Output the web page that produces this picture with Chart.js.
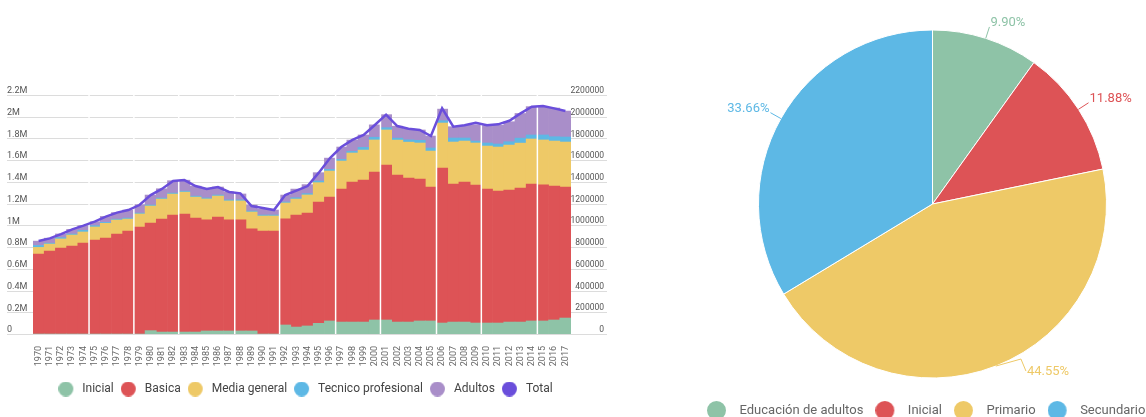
<!DOCTYPE html>
<html>
<head>
<meta charset="utf-8">
<script src="https://cdn.jsdelivr.net/npm/chart.js@4.4.1/dist/chart.umd.min.js"></script>
<style>
  html, body { margin: 0; padding: 0; background: #fff; }
  body { width: 1146px; height: 417px; overflow: hidden; position: relative; }
  #barChart { position: absolute; left: 0; top: 0; }
  #pieChart { position: absolute; left: 694.5px; top: 0; }
</style>
</head>
<body>
<canvas id="barChart" width="610" height="417"></canvas>
<canvas id="pieChart" width="480" height="427"></canvas>
<script>
const years = ['1970','1971','1972','1973','1974','1975','1976','1977','1978','1979',
  '1980','1981','1982','1983','1984','1985','1986','1987','1988','1989',
  '1990','1991','1992','1993','1994','1995','1996','1997','1998','1999',
  '2000','2001','2002','2003','2004','2005','2006','2007','2008','2009',
  '2010','2011','2012','2013','2014','2015','2016','2017'];

const inicial = [0,0,0,0,0,0,0,0,0,0,
  31000,18000,18000,18000,18000,28000,28000,28000,28000,28000,
  0,0,83000,64000,74000,98000,120000,110000,110000,110000,
  129000,129000,110000,110000,120000,120000,101000,110000,110000,101000,
  101000,101000,110000,110000,120000,120000,129000,147000];

const basica = [736000,764000,792000,810000,838000,865000,884000,920000,948000,985000,
  991000,1040000,1077000,1086000,1049000,1022000,1049000,1022000,1022000,939000,
  948000,948000,976000,1031000,1040000,1117000,1141000,1224000,1289000,1307000,
  1362000,1427000,1353000,1325000,1307000,1233000,1427000,1270000,1289000,1270000,
  1233000,1215000,1215000,1233000,1261000,1252000,1233000,1206000];

const mediaGeneral = [61000,64000,83000,101000,101000,120000,135000,129000,110000,120000,
  156000,184000,193000,202000,193000,193000,193000,175000,175000,156000,
  138000,138000,147000,147000,166000,178000,239000,258000,267000,276000,
  295000,322000,322000,331000,331000,331000,414000,387000,377000,387000,
  396000,405000,414000,414000,414000,414000,414000,414000];

const tecnico = [18000,8000,12000,9000,15000,12000,8000,8000,9000,8000,
  9000,9000,9000,9000,9000,9000,9000,9000,9000,9000,
  9000,9000,9000,12000,12000,15000,15000,15000,15000,25000,
  25000,21000,18000,21000,25000,28000,21000,37000,28000,18000,
  28000,28000,31000,46000,37000,46000,40000,46000];

const adultos = [40000,46000,34000,43000,43000,37000,55000,61000,74000,77000,
  92000,86000,114000,101000,92000,83000,74000,74000,55000,55000,
  55000,46000,64000,80000,83000,77000,104000,114000,104000,114000,
  114000,120000,110000,101000,95000,110000,107000,104000,117000,150000,
  160000,172000,184000,227000,261000,261000,264000,239000];

const total = [856000,880000,920000,963000,997000,1034000,1080000,1117000,1141000,1187000,
  1279000,1335000,1408000,1417000,1362000,1335000,1353000,1307000,1295000,1178000,
  1160000,1141000,1279000,1319000,1362000,1485000,1620000,1721000,1786000,1832000,
  1924000,2019000,1914000,1890000,1878000,1822000,2077000,1908000,1921000,1945000,
  1921000,1930000,1963000,2031000,2092000,2099000,2077000,2052000];

// years where the bars are split by a thin white gap
const gapYears = ['1975','1979','1983','1988','1992','1997','2001','2006','2010','2015'];

const pieLabels = ['Educación de adultos', 'Inicial', 'Primario', 'Secundario'];
const pieValues = [9.90, 11.88, 44.55, 33.66];

const colors = {
  inicial: '#8ec3a7',
  basica: '#dd5356',
  media: '#eec967',
  tecnico: '#5db8e5',
  adultos: '#a98ec9',
  total: '#6a4edb'
};
const pieColors = ['#8ec3a7', '#dd5356', '#eec967', '#5db8e5'];

Chart.defaults.font.family = 'Roboto';
Chart.defaults.animation = false;

// circle drawn at the left of a wider image, so the legend text sits a bit further away
function dotImage(color, d, w) {
  const c = document.createElement('canvas');
  c.width = w; c.height = d;
  const g = c.getContext('2d');
  g.fillStyle = color;
  g.beginPath();
  g.arc(d / 2, d / 2, d / 2, 0, Math.PI * 2);
  g.fill();
  return c;
}

const fullGrid = {
  id: 'fullGrid',
  beforeDatasetsDraw(chart) {
    const ctx = chart.ctx, y = chart.scales.y;
    ctx.save();
    ctx.strokeStyle = '#dcdcdc';
    ctx.lineWidth = 1;
    y.ticks.forEach(t => {
      const py = Math.round(y.getPixelForValue(t.value)) + 0.5;
      ctx.beginPath();
      ctx.moveTo(7, py);
      ctx.lineTo(607, py);
      ctx.stroke();
    });
    ctx.restore();
  }
};

const yearGaps = {
  id: 'yearGaps',
  afterDatasetDraw(chart, args) {
    if (args.index !== 0) return;
    const x = chart.scales.x, area = chart.chartArea, ctx = chart.ctx;
    ctx.save();
    ctx.strokeStyle = '#ffffff';
    ctx.lineWidth = 1.5;
    gapYears.forEach(yr => {
      const i = years.indexOf(yr);
      const px = (x.getPixelForValue(i - 1) + x.getPixelForValue(i)) / 2;
      ctx.beginPath();
      ctx.moveTo(px, area.top);
      ctx.lineTo(px, area.bottom);
      ctx.stroke();
    });
    ctx.restore();
  }
};

function barSet(label, data, color) {
  return { label, data, backgroundColor: color, borderWidth: 0,
    barPercentage: 1, categoryPercentage: 1, stack: 'edu' };
}

new Chart(document.getElementById('barChart'), {
  type: 'bar',
  data: {
    labels: years,
    datasets: [
      barSet('Inicial', inicial, colors.inicial),
      barSet('Basica', basica, colors.basica),
      barSet('Media general', mediaGeneral, colors.media),
      barSet('Tecnico profesional', tecnico, colors.tecnico),
      barSet('Adultos', adultos, colors.adultos),
      { type: 'line', label: 'Total', data: total, borderColor: colors.total,
        backgroundColor: colors.total, borderWidth: 2.5, pointRadius: 0,
        tension: 0, fill: false, order: -1, stack: 'total' }
    ]
  },
  options: {
    responsive: false,
    layout: { padding: { left: 7, right: 6, top: 95, bottom: 12 } },
    scales: {
      x: {
        stacked: true,
        grid: { display: false },
        border: { display: false },
        ticks: { autoSkip: false, minRotation: 90, maxRotation: 90, padding: 4,
          color: '#666', font: { size: 9 } },
        afterFit: s => { s.height = 42; }
      },
      y: {
        stacked: true, position: 'left', min: 0, max: 2200000,
        grid: { display: false },
        border: { display: false },
        ticks: { stepSize: 200000, crossAlign: 'far', labelOffset: -4, padding: 0,
          color: '#555', font: { size: 9 },
          callback: v => v === 0 ? '0' : (v / 1000000) + 'M' },
        afterFit: s => { s.width = 26; }
      },
      y2: {
        position: 'right', min: 0, max: 2200000,
        grid: { display: false },
        border: { display: false },
        ticks: { stepSize: 200000, crossAlign: 'far', labelOffset: -4, padding: 0,
          color: '#555', font: { size: 8.5 }, callback: v => String(v) },
        afterFit: s => { s.width = 33; }
      }
    },
    plugins: {
      tooltip: { enabled: false },
      legend: {
        position: 'bottom',
        labels: {
          color: '#444', font: { size: 12 }, padding: 7,
          usePointStyle: true, pointStyleWidth: 18, boxHeight: 12,
          sort: (a, b) => a.datasetIndex - b.datasetIndex,
          generateLabels: chart => Chart.defaults.plugins.legend.labels.generateLabels(chart)
            .map(item => Object.assign(item, { pointStyle: dotImage(item.fillStyle, 15, 18) }))
        }
      }
    }
  },
  plugins: [fullGrid, yearGaps]
});

const pieLabelsPlugin = {
  id: 'pieLabels',
  afterDatasetsDraw(chart) {
    const ctx = chart.ctx;
    const meta = chart.getDatasetMeta(0);
    ctx.save();
    ctx.font = '13px Roboto';
    ctx.lineWidth = 1;
    ctx.textBaseline = 'middle';
    meta.data.forEach((arc, i) => {
      const p = arc.getProps(['x', 'y', 'startAngle', 'endAngle', 'outerRadius'], true);
      const mid = (p.startAngle + p.endAngle) / 2;
      const cos = Math.cos(mid), sin = Math.sin(mid);
      const x0 = p.x + cos * p.outerRadius, y0 = p.y + sin * p.outerRadius;
      ctx.strokeStyle = pieColors[i];
      ctx.fillStyle = pieColors[i];
      ctx.beginPath();
      ctx.moveTo(x0, y0);
      let tx, ty;
      if (sin > 0.8) {
        ctx.lineTo(x0 + 25, y0 - 7);
        ctx.lineTo(x0 + 30, y0 + 5);
        tx = x0 + 31; ty = y0 + 6;
        ctx.textAlign = 'left';
      } else {
        const x1 = p.x + cos * (p.outerRadius + 12), y1 = p.y + sin * (p.outerRadius + 12);
        ctx.lineTo(x1, y1);
        tx = x1 + (cos >= 0 ? 1 : -1); ty = y1 - 4;
        ctx.textAlign = cos >= 0 ? 'left' : 'right';
      }
      ctx.stroke();
      ctx.fillText(pieValues[i].toFixed(2) + '%', tx, ty);
    });
    ctx.restore();
  }
};

new Chart(document.getElementById('pieChart'), {
  type: 'pie',
  data: {
    labels: pieLabels,
    datasets: [{ data: pieValues, backgroundColor: pieColors, borderColor: '#ffffff',
      borderWidth: 1, radius: 174 }]
  },
  options: {
    responsive: false,
    layout: { padding: { left: 0, right: 5, top: 16, bottom: 0 } },
    plugins: {
      tooltip: { enabled: false },
      legend: {
        position: 'bottom',
        align: 'start',
        labels: {
          color: '#666', font: { size: 13 }, padding: 12,
          usePointStyle: true, pointStyleWidth: 26, boxHeight: 13,
          generateLabels: chart => Chart.overrides.pie.plugins.legend.labels.generateLabels(chart)
            .map(item => Object.assign(item, { pointStyle: dotImage(item.fillStyle, 19, 26) }))
        }
      }
    }
  },
  plugins: [pieLabelsPlugin]
});
</script>
</body>
</html>
